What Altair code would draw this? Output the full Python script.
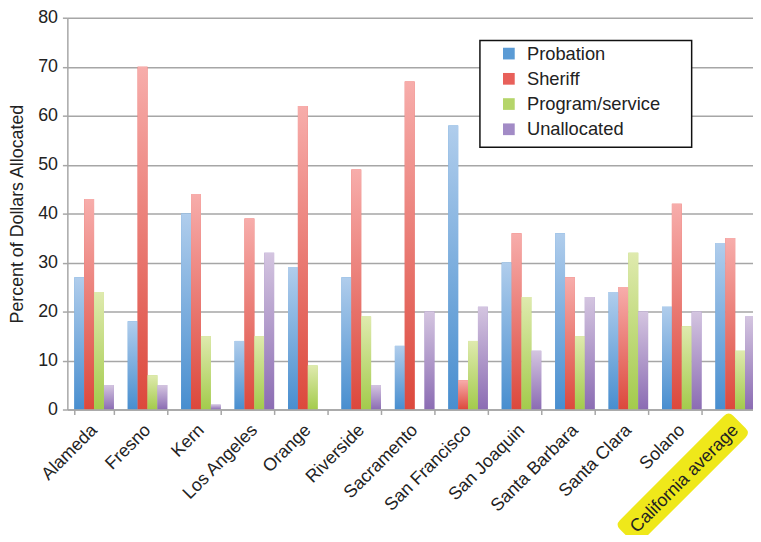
import altair as alt
import pandas as pd

counties = ["Alameda", "Fresno", "Kern", "Los Angeles", "Orange", "Riverside",
            "Sacramento", "San Francisco", "San Joaquin", "Santa Barbara",
            "Santa Clara", "Solano", "California average"]
series = ["Probation", "Sheriff", "Program/service", "Unallocated"]
probation = [27, 18, 40, 14, 29, 27, 13, 58, 30, 36, 24, 21, 34]
sheriff = [43, 70, 44, 39, 62, 49, 67, 6, 36, 27, 25, 42, 35]
program = [24, 7, 15, 15, 9, 19, 0, 14, 23, 15, 32, 17, 12]
unallocated = [5, 5, 1, 32, 0, 5, 20, 21, 12, 23, 20, 20, 19]
y_ticks = [0, 10, 20, 30, 40, 50, 60, 70, 80]

legend_colors = ["#5b9bd5", "#e8605a", "#b5d56a", "#a28bc6"]
grad_top = ["#b0cdec", "#f7adab", "#dfeaae", "#d4c5e0"]
grad_bottom = ["#488ecf", "#dc483c", "#a3cb4c", "#8b6cb3"]

rows = []
for s, vals in zip(series, [probation, sheriff, program, unallocated]):
    for c, v in zip(counties, vals):
        rows.append({"county": c, "series": s, "value": v})
df = pd.DataFrame(rows)

FONT = "Liberation Sans"
W, H = 693, 396
STEP_RANGE = 702

x_enc = alt.X("county:N", sort=counties,
              scale=alt.Scale(domain=counties, range=[0, STEP_RANGE],
                              paddingInner=0.26, paddingOuter=0.13),
              axis=alt.Axis(title=None, labelAngle=315, labelAlign="right",
                            labelBaseline="middle", labelFontSize=18,
                            labelFont=FONT, labelColor="#222222",
                            labelPadding=13, tickSize=5, tickBand="extent",
                            tickColor="#a6a6a6", tickWidth=1.5,
                            domainColor="#a6a6a6", domainWidth=1.5,
                            grid=False, zindex=1, labelLimit=300))
xo_enc = alt.XOffset("series:N", sort=series,
                     scale=alt.Scale(domain=series, paddingInner=0, paddingOuter=0))
y_enc = alt.Y("value:Q",
              scale=alt.Scale(domain=[0, 80], nice=False),
              axis=alt.Axis(values=y_ticks, title="Percent of Dollars Allocated",
                            titleFontSize=18, titleFont=FONT, titleColor="#222222",
                            titleFontWeight="normal", titleX=-50, titleY=H / 2,
                            titleAngle=270, titleBaseline="middle", titleAlign="center",
                            labelFontSize=18, labelFont=FONT, labelColor="#222222",
                            labelPadding=5, ticks=True, tickSize=5,
                            tickColor="#a6a6a6", tickWidth=1.5,
                            grid=True, gridColor="#a6a6a6", gridWidth=1.5,
                            domainColor="#a6a6a6", domainWidth=1.5, zindex=0))

base = alt.Chart(df).mark_bar().encode(
    x=x_enc, xOffset=xo_enc, y=y_enc,
    color=alt.Color("series:N", sort=series,
                    scale=alt.Scale(domain=series, range=legend_colors),
                    legend=alt.Legend(title=None, orient="none", legendX=437, legendY=27,
                                      symbolType="square", symbolSize=140,
                                      symbolStrokeWidth=0, labelFontSize=18.5,
                                      labelFont=FONT, labelColor="#222222",
                                      labelOffset=9, rowPadding=6.5, padding=0)),
)

grad_layers = []
for s, top, bot in zip(series, grad_top, grad_bottom):
    g = {"gradient": "linear", "x1": 0, "y1": 0, "x2": 0, "y2": 1,
         "stops": [{"offset": 0, "color": top}, {"offset": 1, "color": bot}]}
    grad_layers.append(
        alt.Chart(df).transform_filter(alt.datum.series == s)
        .mark_bar(fill=g).encode(x=x_enc, xOffset=xo_enc, y=y_enc)
    )

frame = alt.Chart(pd.DataFrame({"k": [0]})).mark_rect(
    fill="white", stroke="#111111", strokeWidth=1.5
).encode(x=alt.value(417), x2=alt.value(631), y=alt.value(23), y2=alt.value(131))

hl_path = ("M -0.92 -0.19 L 0.92 -0.19 Q 1 -0.19 1 -0.11 L 1 0.11 "
           "Q 1 0.19 0.92 0.19 L -0.92 0.19 Q -1 0.19 -1 0.11 "
           "L -1 -0.11 Q -1 -0.19 -0.92 -0.19 Z")
highlight = alt.Chart(pd.DataFrame({"county": ["California average"]})).mark_point(
    shape=hl_path, size=26244, angle=315, filled=True, color="#efe81a",
    opacity=1, strokeWidth=0, xOffset=-53
).encode(x=x_enc, y=alt.value(H + 70))

chart = alt.layer(frame, highlight, base, *grad_layers).properties(
    width=W, height=H,
    autosize=alt.AutoSizeParams(type="none"),
    padding={"left": 60, "top": 7, "right": 0, "bottom": 124},
).configure_view(strokeWidth=0)

chart.save("out.html", embed_options={"renderer": "svg", "actions": False})
